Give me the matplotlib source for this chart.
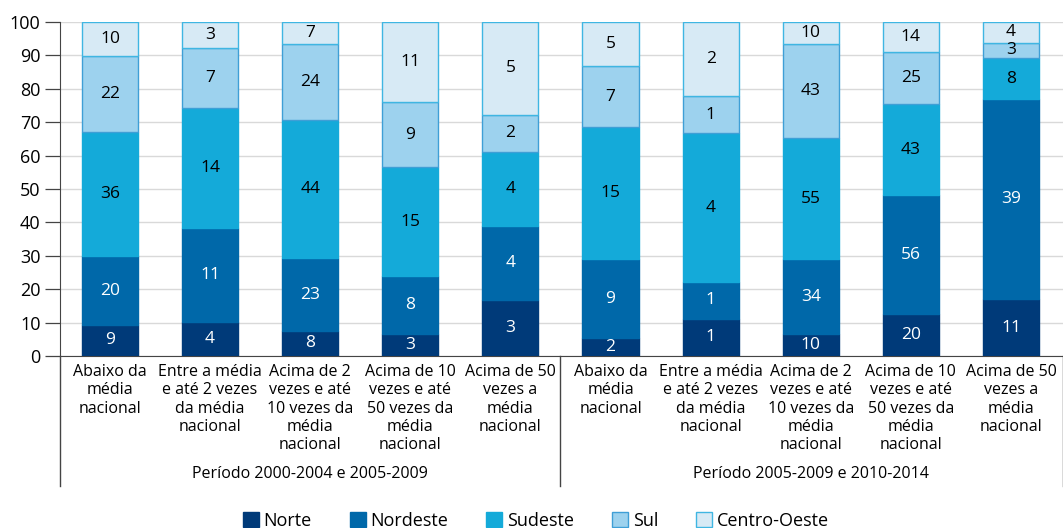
import matplotlib
matplotlib.use("Agg")
import matplotlib.pyplot as plt
import numpy as np
from matplotlib.patches import Patch

plt.rcParams['font.family'] = ['Open Sans', 'DejaVu Sans']

categories = [
    "Abaixo da\nmédia\nnacional",
    "Entre a média\ne até 2 vezes\nda média\nnacional",
    "Acima de 2\nvezes e até\n10 vezes da\nmédia\nnacional",
    "Acima de 10\nvezes e até\n50 vezes da\nmédia\nnacional",
    "Acima de 50\nvezes a\nmédia\nnacional",
] * 2
groups = ["Período 2000-2004 e 2005-2009", "Período 2005-2009 e 2010-2014"]
series_names = ["Norte", "Nordeste", "Sudeste", "Sul", "Centro-Oeste"]
norte = [9, 4, 8, 3, 3, 2, 1, 10, 20, 11]
nordeste = [20, 11, 23, 8, 4, 9, 1, 34, 56, 39]
sudeste = [36, 14, 44, 15, 4, 15, 4, 55, 43, 8]
sul = [22, 7, 24, 9, 2, 7, 1, 43, 25, 3]
centro_oeste = [10, 3, 7, 11, 5, 5, 2, 10, 14, 4]

fills = ["#003a79", "#0068a9", "#14aad9", "#9dd2ee", "#d7eaf5"]
edges = ["#003a79", "#0068a9", "#14aad9", "#3f9fd6", "#3fb6e2"]
txtcol = ["white", "white", "black", "black", "black"]

counts = np.array([norte, nordeste, sudeste, sul, centro_oeste], dtype=float)
totals = counts.sum(axis=0)
pct = counts / totals * 100

fig = plt.figure(figsize=(10.63, 5.28), dpi=100)
ax = fig.add_axes([0.0564, 0.3258, 0.9436, 0.6325])
x = np.arange(len(categories))
w = 0.56
bottom = np.zeros(len(categories))
for i in range(5):
    ax.bar(x, pct[i], w, bottom=bottom, color=fills[i], edgecolor=edges[i],
           linewidth=1.0, zorder=3)
    for j in range(len(categories)):
        ax.text(x[j], bottom[j] + pct[i][j] / 2, f"{int(counts[i][j])}",
                ha="center", va="center", color=txtcol[i], fontsize=12.5, zorder=4)
    bottom += pct[i]

ax.set_xlim(-0.5, 9.52)
ax.set_ylim(0, 100)
ax.set_yticks(range(0, 101, 10))
ax.tick_params(axis="y", labelsize=13, length=11, width=0.9, color="#444444", pad=3)
ax.yaxis.grid(True, color="#d9d9d9", linewidth=1.0, zorder=0)
ax.set_axisbelow(True)
for s in ["top", "right"]:
    ax.spines[s].set_visible(False)
ax.spines["left"].set_color("#444444")
ax.spines["bottom"].set_color("#444444")
ax.set_xticks(x)
ax.set_xticklabels(categories, fontsize=11.5, linespacing=1.18)
ax.tick_params(axis="x", length=0, pad=6)

# group separators
for xv in [-0.5, 4.5, 9.52]:
    ax.plot([xv, xv], [0, -39], color="#444444", linewidth=1.0, clip_on=False)
for gi, g in enumerate(groups):
    ax.text(2 + 5 * gi, -35.3, g, ha="center", va="center", fontsize=11.5)

handles = [Patch(facecolor=fills[i], edgecolor=edges[i], label=series_names[i]) for i in range(5)]
fig.legend(handles=handles, loc="center", bbox_to_anchor=(0.504, 0.013), ncol=5,
           frameon=False, fontsize=13, handlelength=0.9, handleheight=0.9,
           handletextpad=0.25, columnspacing=2.1, borderpad=0)

fig.savefig("out.png", dpi=100)
